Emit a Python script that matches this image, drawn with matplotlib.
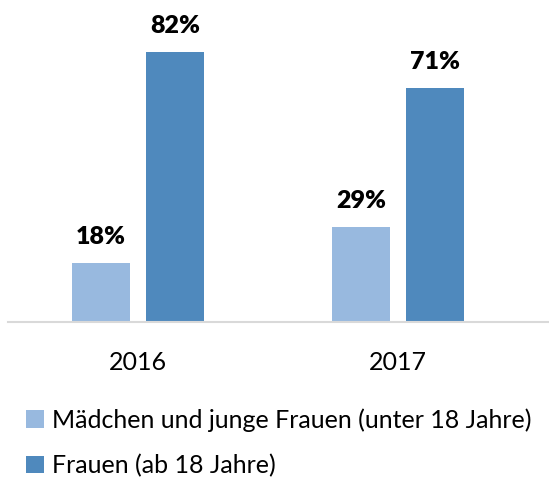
import numpy as np
import matplotlib.pyplot as plt

jahre = ['2016', '2017']
maedchen = [18, 29]
frauen = [82, 71]
serien = ['Mädchen und junge Frauen (unter 18 Jahre)', 'Frauen (ab 18 Jahre)']
farben = ['#98B9DF', '#4F89BD']

plt.rcParams['font.family'] = ['Lato', 'DejaVu Sans']

fig = plt.figure(figsize=(5.49, 4.79), dpi=100)
ax = fig.add_axes([8/549, 157/479, 541/549, 322/479])

x = np.arange(len(jahre))
w = 0.223
off = 0.142
b1 = ax.bar(x - off, maedchen, w, color=farben[0], label=serien[0])
b2 = ax.bar(x + off, frauen, w, color=farben[1], label=serien[1])

for bars, vals in [(b1, maedchen), (b2, frauen)]:
    for b, v in zip(bars, vals):
        ax.text(b.get_x() + b.get_width()/2, v + 5.8, f'{v}%',
                ha='center', va='baseline', fontsize=18, fontweight='heavy')

ax.set_xlim(-0.5, 1.581)
ax.set_ylim(0, 97.9)
ax.set_xticks(x)
ax.set_xticklabels(jahre, fontsize=18)
ax.tick_params(axis='x', length=0, pad=21)
ax.set_yticks([])
for s in ['top', 'right', 'left']:
    ax.spines[s].set_visible(False)
ax.spines['bottom'].set_color('#D9D9D9')
ax.spines['bottom'].set_linewidth(1.5)

fig.legend(handles=[b1, b2], loc='upper left', bbox_to_anchor=(16/549, 1 - 398/479),
           frameon=False, fontsize=18, handlelength=0.7, handleheight=0.7,
           handletextpad=0.35, labelspacing=0.9, borderaxespad=0)

plt.savefig('out.png', dpi=100)
